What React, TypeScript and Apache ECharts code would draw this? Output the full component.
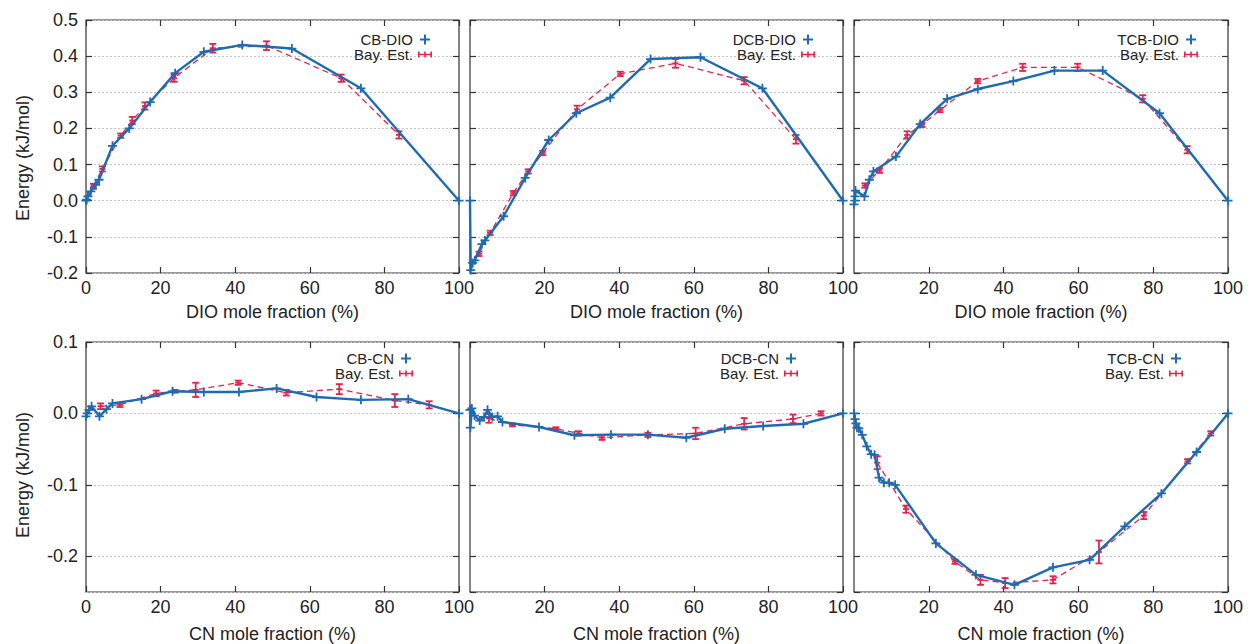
import React, { useEffect, useRef } from "react";
import * as echarts from "echarts";

// ---------- data ----------
const xTickValues = [0, 20, 40, 60, 80, 100];

const cbDioX = [0, 0.2, 0.5, 1.3, 2.6, 3.5, 7.1, 11.6, 17.2, 23.9, 31.6, 41.9, 55.2, 73.7, 100];
const cbDioY = [0, 0.003, 0.012, 0.026, 0.044, 0.058, 0.152, 0.2, 0.273, 0.353, 0.412, 0.431, 0.421, 0.311, 0];
const cbDioBayX = [2.0, 4.4, 9.3, 12.4, 15.8, 23.6, 34.0, 48.4, 68.4, 83.9];
const cbDioBayY = [0.04, 0.088, 0.18, 0.222, 0.262, 0.339, 0.422, 0.429, 0.339, 0.182];
const cbDioBayErr = [0.007, 0.007, 0.006, 0.01, 0.01, 0.01, 0.012, 0.012, 0.01, 0.01];

const dcbDioX = [0, 0.2, 0.7, 1.3, 3.2, 4.0, 9.0, 14.8, 21.1, 28.5, 37.6, 48.4, 61.8, 78.4, 100];
const dcbDioY = [0, -0.192, -0.172, -0.165, -0.12, -0.11, -0.043, 0.063, 0.168, 0.242, 0.285, 0.392, 0.397, 0.311, 0];
const dcbDioBayX = [2.4, 5.4, 11.6, 15.6, 19.5, 28.7, 40.3, 55.1, 73.5, 87.4];
const dcbDioBayY = [-0.147, -0.089, 0.021, 0.081, 0.132, 0.253, 0.351, 0.38, 0.332, 0.17];
const dcbDioBayErr = [0.006, 0.006, 0.006, 0.006, 0.006, 0.01, 0.006, 0.012, 0.01, 0.012];

const tcbDioX = [0, 0.2, 0.3, 0.4, 2.8, 4.1, 5.2, 11.2, 17.7, 24.9, 33.1, 42.6, 53.6, 66.5, 81.7, 100];
const tcbDioY = [-0.01, 0.0, 0.012, 0.028, 0.012, 0.058, 0.081, 0.122, 0.212, 0.282, 0.309, 0.331, 0.36, 0.36, 0.242, 0];
const tcbDioBayX = [2.9, 6.8, 14.2, 18.2, 23.0, 33.1, 45.1, 59.8, 77.2, 89.1];
const tcbDioBayY = [0.042, 0.083, 0.182, 0.21, 0.251, 0.331, 0.369, 0.369, 0.282, 0.141];
const tcbDioBayErr = [0.006, 0.006, 0.01, 0.006, 0.006, 0.006, 0.01, 0.01, 0.01, 0.01];

const cbCnX = [0, 0.3, 0.8, 1.5, 3.6, 5.5, 7.1, 14.9, 23.2, 31.6, 41.0, 51.1, 61.8, 73.7, 86.4, 100];
const cbCnY = [-0.004, 0.0, 0.005, 0.01, -0.004, 0.006, 0.014, 0.02, 0.031, 0.03, 0.03, 0.035, 0.023, 0.019, 0.02, 0];
const cbCnBayX = [3.9, 9.1, 18.8, 23.9, 29.4, 40.8, 53.7, 67.9, 82.8, 92.0];
const cbCnBayY = [0.01, 0.012, 0.028, 0.031, 0.033, 0.043, 0.029, 0.034, 0.018, 0.012];
const cbCnBayErr = [0.004, 0.003, 0.004, 0.002, 0.01, 0.003, 0.004, 0.007, 0.009, 0.005];

const dcbCnX = [0, 0.1, 0.5, 1.2, 2.6, 3.8, 4.7, 6.0, 7.4, 8.7, 18.5, 28.0, 37.8, 47.7, 58.0, 68.3, 78.6, 89.4, 100];
const dcbCnY = [0.005, -0.02, 0.007, -0.003, -0.01, -0.005, 0.005, -0.005, -0.004, -0.012, -0.019, -0.0305, -0.0297, -0.0297, -0.034, -0.0214, -0.0177, -0.0145, 0];
const dcbCnBayX = [5.1, 11.4, 23.0, 29.1, 35.4, 47.7, 60.5, 73.5, 86.6, 94.1];
const dcbCnBayY = [-0.007, -0.016, -0.0214, -0.028, -0.034, -0.03, -0.028, -0.0145, -0.0076, 0.0];
const dcbCnBayErr = [0.006, 0.002, 0.002, 0.003, 0.003, 0.003, 0.008, 0.008, 0.006, 0.003];

const tcbCnX = [0, 0.3, 0.5, 0.8, 1.3, 2.2, 3.4, 4.6, 5.5, 6.7, 8.0, 9.4, 11.0, 21.9, 32.6, 42.9, 53.2, 63.0, 72.4, 82.2, 91.6, 100];
const tcbCnY = [0, -0.008, -0.014, -0.02, -0.021, -0.03, -0.046, -0.057, -0.058, -0.09, -0.097, -0.097, -0.1, -0.182, -0.226, -0.24, -0.2155, -0.205, -0.158, -0.112, -0.054, 0];
const tcbCnBayX = [6.2, 13.9, 27.0, 33.8, 40.4, 53.2, 65.5, 77.5, 89.2, 95.4];
const tcbCnBayY = [-0.069, -0.134, -0.2076, -0.233, -0.2375, -0.233, -0.194, -0.143, -0.067, -0.028];
const tcbCnBayErr = [0.009, 0.005, 0.003, 0.007, 0.007, 0.005, 0.016, 0.005, 0.003, 0.003];

const panelNames = ["CB-DIO", "DCB-DIO", "TCB-DIO", "CB-CN", "DCB-CN", "TCB-CN"];
const bayName = "Bay. Est.";
const xTitles = ["DIO mole fraction (%)", "CN mole fraction (%)"];
const yTitle = "Energy (kJ/mol)";

// ---------- style / layout ----------
const BLUE = "#1f6bb2";
const RED = "#e3234d";
const FONT = "Liberation Sans, Arial, Helvetica, sans-serif";
const TXT = "#222";

const colLefts = [86, 470, 854];
const colWidths = [373, 373, 374];
const rowTops = [20, 342];
const rowHeights = [253, 251];
const rowYRange = [
  { min: -0.2, max: 0.5 },
  { min: -0.25, max: 0.1 },
];
const legendRights = [820, 437, 54, 839, 454, 69];
const legendTops = [32, 351];
const nameGaps = [30, 33];

const PLUS = "path://M4,0h2v4h4v2h-4v4h-2v-4h-4v-2h4z";
const ERRICON = "path://M0,2h1.6v6h-1.6z M12.4,2h1.6v6h-1.6z M6.2,2h1.6v6h-1.6z M0,4.3h14v1.4h-14z";

const panelData = [
  [cbDioX, cbDioY, cbDioBayX, cbDioBayY, cbDioBayErr],
  [dcbDioX, dcbDioY, dcbDioBayX, dcbDioBayY, dcbDioBayErr],
  [tcbDioX, tcbDioY, tcbDioBayX, tcbDioBayY, tcbDioBayErr],
  [cbCnX, cbCnY, cbCnBayX, cbCnBayY, cbCnBayErr],
  [dcbCnX, dcbCnY, dcbCnBayX, dcbCnBayY, dcbCnBayErr],
  [tcbCnX, tcbCnY, tcbCnBayX, tcbCnBayY, tcbCnBayErr],
];

function buildOption() {
  const grid: any[] = [];
  const xAxis: any[] = [];
  const yAxis: any[] = [];
  const series: any[] = [];
  const legend: any[] = [];

  for (let i = 0; i < 6; i++) {
    const row = Math.floor(i / 3);
    const col = i % 3;
    grid.push({
      left: colLefts[col],
      top: rowTops[row],
      width: colWidths[col],
      height: rowHeights[row],
      show: true,
      borderColor: "#333",
      borderWidth: 1.2,
      backgroundColor: "transparent",
      containLabel: false,
    });
    const tick = { show: true, inside: true, length: 6, lineStyle: { color: "#333", width: 1.2 } };
    // bottom x
    xAxis.push({
      type: "value",
      gridIndex: i,
      min: xTickValues[0],
      max: xTickValues[xTickValues.length - 1],
      interval: xTickValues[1] - xTickValues[0],
      position: "bottom",
      axisLine: { show: false, onZero: false },
      axisTick: tick,
      splitLine: { show: false },
      axisLabel: {
        show: true,
        fontSize: 18,
        fontFamily: FONT,
        color: TXT,
        margin: 6,
        showMinLabel: col === 0,
      },
      name: xTitles[row],
      nameLocation: "middle",
      nameGap: nameGaps[row],
      nameTextStyle: { fontSize: 18, fontFamily: FONT, color: TXT },
    });
    // top mirror x
    xAxis.push({
      type: "value",
      gridIndex: i,
      min: xTickValues[0],
      max: xTickValues[xTickValues.length - 1],
      interval: xTickValues[1] - xTickValues[0],
      position: "top",
      axisLine: { show: false, onZero: false },
      axisTick: tick,
      splitLine: { show: false },
      axisLabel: { show: false },
    });
    const yr = rowYRange[row];
    const yBase: any = {
      type: "value",
      gridIndex: i,
      min: yr.min,
      max: yr.max,
      axisLine: { show: false, onZero: false },
      axisTick: tick,
    };
    if (row === 0) yBase.interval = 0.1;
    else yBase.splitNumber = 4;
    yAxis.push({
      ...yBase,
      position: "left",
      splitLine: { show: true, lineStyle: { color: "#c4c4c4", type: [2, 2], width: 1 } },
      axisLabel: {
        show: col === 0,
        fontSize: 18,
        fontFamily: FONT,
        color: TXT,
        margin: 8,
        showMinLabel: row === 0,
        formatter: (v: number) => v.toFixed(1),
      },
    });
    yAxis.push({
      ...yBase,
      position: "right",
      splitLine: { show: false },
      axisLabel: { show: false },
    });

    const [bx, by, rx, ry, re] = panelData[i];
    const blue = bx.map((x, k) => [x, by[k]]);
    const red = rx.map((x, k) => [x, ry[k]]);
    const redErr = rx.map((x, k) => [x, ry[k], re[k]]);

    series.push({
      type: "line",
      name: bayName,
      xAxisIndex: 2 * i,
      yAxisIndex: 2 * i,
      data: red,
      symbol: "none",
      color: RED,
      lineStyle: { color: RED, width: 1.3, type: [6, 4] },
      z: 2,
    });
    series.push({
      type: "custom",
      name: bayName,
      xAxisIndex: 2 * i,
      yAxisIndex: 2 * i,
      data: redErr,
      encode: { x: 0, y: 1 },
      color: RED,
      z: 3,
      renderItem: (params: any, api: any) => {
        const x = api.value(0);
        const y = api.value(1);
        const e = api.value(2);
        const t = api.coord([x, y + e]);
        const b = api.coord([x, y - e]);
        const m = api.coord([x, y]);
        const cap = 3.5;
        const st = { stroke: RED, lineWidth: 1.8 };
        return {
          type: "group",
          children: [
            { type: "line", shape: { x1: t[0], y1: t[1] - 0.5, x2: b[0], y2: b[1] + 0.5 }, style: st },
            { type: "line", shape: { x1: t[0] - cap, y1: t[1], x2: t[0] + cap, y2: t[1] }, style: st },
            { type: "line", shape: { x1: b[0] - cap, y1: b[1], x2: b[0] + cap, y2: b[1] }, style: st },
            { type: "line", shape: { x1: m[0] - 3, y1: m[1], x2: m[0] + 3, y2: m[1] }, style: st },
          ],
        };
      },
    });
    series.push({
      type: "line",
      name: panelNames[i],
      xAxisIndex: 2 * i,
      yAxisIndex: 2 * i,
      data: blue,
      symbol: PLUS,
      symbolSize: 9,
      showAllSymbol: true,
      color: BLUE,
      itemStyle: { color: BLUE },
      lineStyle: { color: BLUE, width: 2.4 },
      z: 4,
    });

    legend.push({
      data: [
        { name: panelNames[i], icon: PLUS, itemStyle: { color: BLUE } },
        { name: bayName, icon: ERRICON, itemStyle: { color: RED } },
      ],
      orient: "vertical",
      align: "right",
      right: legendRights[i],
      top: legendTops[row],
      padding: 0,
      itemGap: 0,
      itemWidth: 14,
      itemHeight: 10,
      selectedMode: false,
      textStyle: { fontSize: 15, lineHeight: 14, fontFamily: FONT, color: TXT },
    });
  }

  const graphic = [
    {
      type: "text",
      x: 23,
      y: 158,
      rotation: Math.PI / 2,
      style: { text: yTitle, fontSize: 18, fontFamily: FONT, fill: TXT, textAlign: "center", textVerticalAlign: "middle" },
    },
    {
      type: "text",
      x: 23,
      y: 475,
      rotation: Math.PI / 2,
      style: { text: yTitle, fontSize: 18, fontFamily: FONT, fill: TXT, textAlign: "center", textVerticalAlign: "middle" },
    },
  ];

  return {
    animation: false,
    backgroundColor: "#ffffff",
    grid,
    xAxis,
    yAxis,
    series,
    legend,
    graphic,
  };
}

export default function App() {
  const ref = useRef<HTMLDivElement>(null);
  useEffect(() => {
    if (!ref.current) return;
    const chart = echarts.init(ref.current, undefined, { renderer: "svg" });
    chart.setOption(buildOption() as any);
    return () => chart.dispose();
  }, []);
  return (
    <div
      ref={ref}
      style={{ position: "absolute", left: 0, top: 0, width: 1252, height: 644 }}
    />
  );
}
